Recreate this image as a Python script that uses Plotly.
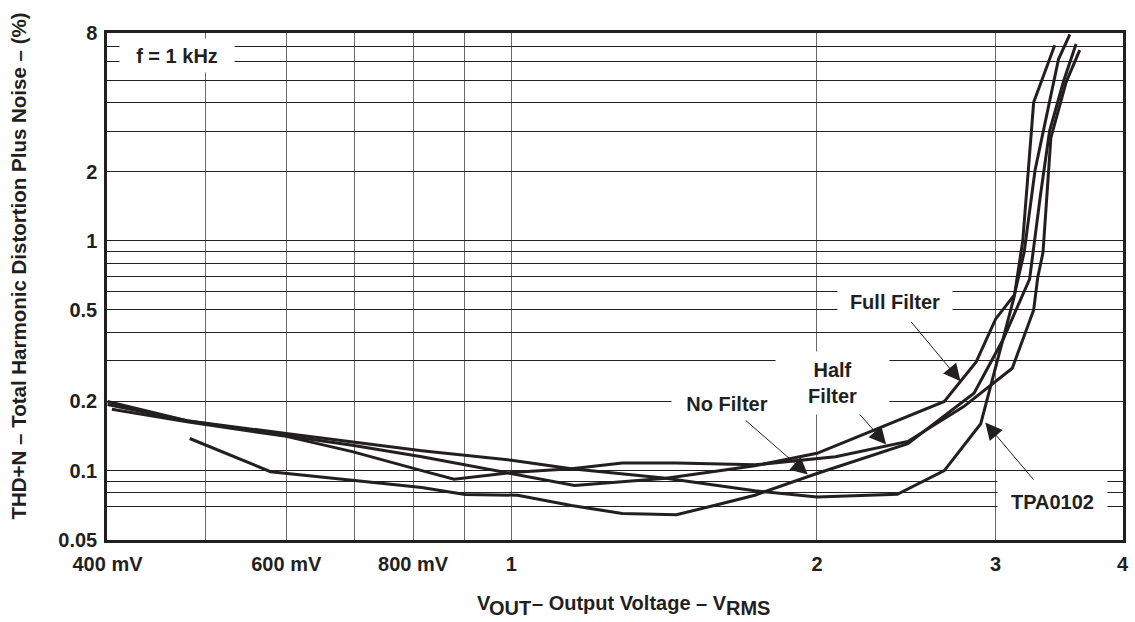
import math
import plotly.graph_objects as go

# ---------------- data ----------------
tpa_x = [0.4, 0.479, 0.6, 0.816, 1.0, 1.146, 1.42, 1.737, 2.0, 2.40, 2.67, 2.90, 3.13, 3.19, 3.27, 3.43]
tpa_y = [0.194, 0.165, 0.145, 0.122, 0.111, 0.102, 0.0926, 0.0817, 0.0769, 0.0789, 0.1, 0.160, 0.576, 1.0, 4.0, 7.09]

full_x = [0.4, 0.479, 0.6, 0.697, 0.816, 1.154, 1.42, 1.737, 2.0, 2.67, 2.87, 3.0, 3.13, 3.20, 3.28, 3.39, 3.46, 3.55]
full_y = [0.2, 0.165, 0.142, 0.129, 0.115, 0.0862, 0.0926, 0.105, 0.119, 0.2, 0.297, 0.457, 0.582, 0.89, 2.02, 3.96, 6.17, 7.9]

half_x = [0.404, 0.479, 0.6, 0.697, 0.816, 0.878, 1.0, 1.146, 1.286, 1.454, 1.737, 2.086, 2.458, 2.79, 3.115, 3.27, 3.30, 3.34, 3.40, 3.52, 3.63]
half_y = [0.185, 0.163, 0.141, 0.121, 0.1, 0.0917, 0.0981, 0.102, 0.108, 0.108, 0.106, 0.115, 0.134, 0.19, 0.279, 0.5, 0.69, 0.89, 2.80, 4.9, 6.75]

nof_x = [0.482, 0.579, 0.816, 0.9, 1.014, 1.146, 1.286, 1.454, 1.595, 1.737, 2.0, 2.458, 2.856, 3.05, 3.24, 3.32, 3.39, 3.50, 3.60]
nof_y = [0.138, 0.099, 0.0844, 0.0787, 0.0782, 0.0705, 0.0652, 0.0643, 0.0711, 0.0782, 0.0972, 0.131, 0.217, 0.371, 0.681, 1.57, 3.0, 4.95, 7.17]

x_tickvals = [0.4, 0.5, 0.6, 0.7, 0.8, 0.9, 1, 2, 3, 4]
x_ticktext = ["400 mV", "", "600 mV", "", "800 mV", "", "1", "2", "3", "4"]
y_tickvals = [0.05, 0.07, 0.08, 0.09, 0.1, 0.2, 0.3, 0.4, 0.5, 0.6, 0.7, 0.8, 0.9, 1, 2, 3, 4, 5, 6, 7, 8]
y_ticktext = ["0.05", "", "", "", "0.1", "0.2", "", "", "0.5", "", "", "", "", "1", "2", "", "", "", "", "", "8"]

# callout labels and the curve points their arrows point at
labels = ["Full Filter", "Half<br>Filter", "No Filter", "TPA0102"]
tip_x = [2.77, 2.34, 1.959, 2.93]
tip_y = [0.245, 0.13, 0.0962, 0.162]

INK = "#231f20"
FONT = "Liberation Sans, Arial, Helvetica, sans-serif"

fig = go.Figure()
for name, xs, ys in [("TPA0102", tpa_x, tpa_y), ("Full Filter", full_x, full_y),
                     ("Half Filter", half_x, half_y), ("No Filter", nof_x, nof_y)]:
    fig.add_trace(go.Scatter(x=xs, y=ys, mode="lines", name=name,
                             line=dict(color=INK, width=3), showlegend=False))

L, R, T, B = 107, 6, 33, 82
W, H = 1135, 622
PW, PH = W - L - R, H - T - B
XMIN, XMAX, YMIN, YMAX = 0.4, 4.0, 0.05, 8.0


def px(xpix):
    return (xpix - L) / PW


def py(ypix):
    return (H - B - ypix) / PH


def xpix_of(v):
    return L + PW * math.log10(v / XMIN) / math.log10(XMAX / XMIN)


def ypix_of(v):
    return (H - B) - PH * math.log10(v / YMIN) / math.log10(YMAX / YMIN)


lab_font = dict(size=20, color=INK, family=FONT, weight="bold")
ann = []
ann.append(dict(text="f = 1 kHz", x=px(177), y=py(55), xref="paper", yref="paper",
                showarrow=False, bgcolor="white", width=110, height=29, borderpad=2,
                font=lab_font, xanchor="center", yanchor="middle"))

# label centres (pixels) and box sizes
centres = [(900, 302), (837, 383), (731, 404), (1058, 502)]
sizes = [(110, 35), (109, 58), (106, 28), (105, 40)]
for txt, (cx, cy), (w, h), tx, ty in zip(labels, centres, sizes, tip_x, tip_y):
    ann.append(dict(text=txt, x=math.log10(tx), y=math.log10(ty), xref="x", yref="y",
                    ax=cx - xpix_of(tx), ay=cy - ypix_of(ty),
                    showarrow=True, arrowhead=2, arrowsize=3.4, arrowwidth=1,
                    arrowcolor=INK, bgcolor="white", width=w, height=h, borderpad=2,
                    font=lab_font))

# x-axis title, built from pieces so the subscripts sit low at nearly full size
title_parts = [("V", 478, 603, 20), ("OUT", 490, 608, 20),
               ("– Output Voltage – V", 534, 603, 20), ("RMS", 729, 608, 20)]
for txt, lx, cy, fs in title_parts:
    ann.append(dict(text=txt, x=px(lx), y=py(cy), xref="paper", yref="paper",
                    showarrow=False, xanchor="left", yanchor="middle", borderpad=0,
                    font=dict(size=fs, color=INK, family=FONT, weight="bold")))

ann.append(dict(text="THD+N – Total Harmonic Distortion Plus Noise – (%)",
                x=px(17), y=py(266), xref="paper", yref="paper", showarrow=False,
                textangle=-90, xanchor="center", yanchor="middle",
                font=dict(size=20.5, color=INK, family=FONT, weight="bold")))

eps = 0.0005
fig.update_layout(
    width=W, height=H,
    margin=dict(l=L, r=R, t=T, b=B, pad=0),
    paper_bgcolor="white", plot_bgcolor="white",
    font=dict(family=FONT, size=20, color=INK, weight="bold"),
    annotations=ann,
    xaxis=dict(type="log", range=[math.log10(XMIN) - eps, math.log10(XMAX) + eps],
               tickmode="array", tickvals=x_tickvals, ticktext=x_ticktext,
               showgrid=True, gridcolor="#6a6a6a", gridwidth=1.2,
               showline=True, linecolor=INK, linewidth=2.5, mirror=True,
               ticks="", ticklabelstandoff=4, ticklabeloverflow="allow", zeroline=False,
               tickfont=lab_font),
    yaxis=dict(type="log", range=[math.log10(YMIN) - eps, math.log10(YMAX) + eps],
               tickmode="array", tickvals=y_tickvals, ticktext=y_ticktext,
               showgrid=True, gridcolor=INK, gridwidth=1,
               showline=True, linecolor=INK, linewidth=2.5, mirror=True,
               ticks="", ticklabelstandoff=3, ticklabeloverflow="allow", zeroline=False,
               tickfont=lab_font),
)

fig.write_html("out.html", config={"displayModeBar": False},
               post_script="document.body.style.margin='0';")
